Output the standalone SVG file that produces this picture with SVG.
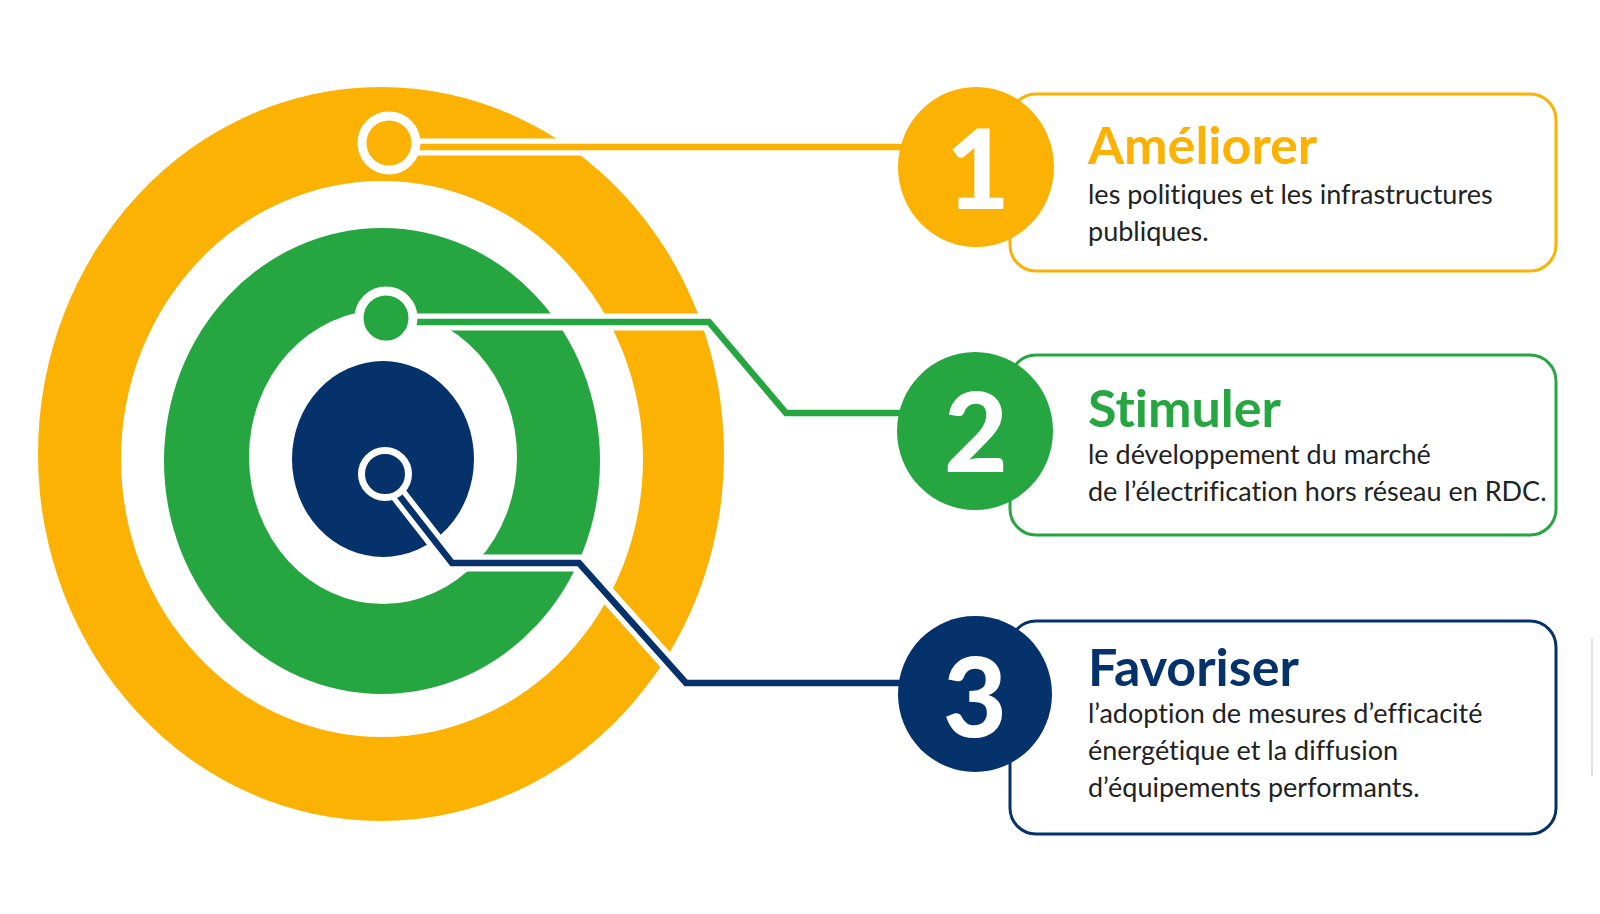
<svg xmlns="http://www.w3.org/2000/svg" width="1600" height="914" viewBox="0 0 1600 914">
  <style>
    .yellow { fill: #FBB203; }
    .green { fill: #26A641; }
    .navy { fill: #05326B; }
    .white { fill: #FFFFFF; }
    .halo { fill: none; stroke: #FFFFFF; stroke-width: 17; stroke-linejoin: miter; stroke-linecap: butt; }
    .line { fill: none; stroke-width: 6.5; stroke-linejoin: miter; stroke-linecap: butt; }
    .box { fill: #FFFFFF; stroke-width: 3; }
    .digit { font-family: Lato, "Liberation Sans", sans-serif; font-weight: 900; font-size: 110px; fill: #FFFFFF; text-anchor: middle; }
    .title { font-family: Lato, "Liberation Sans", sans-serif; font-weight: 700; font-size: 52px; font-variant-ligatures: none; }
    .sub { font-family: Lato, "Liberation Sans", sans-serif; font-weight: 400; font-size: 27px; fill: #222222; font-variant-ligatures: none; }
  </style>
  <rect width="1600" height="914" fill="#FFFFFF"/>

  <g id="target">
    <ellipse class="yellow" cx="381" cy="454" rx="343" ry="367"/>
    <ellipse class="white" cx="382" cy="459" rx="261" ry="278"/>
    <ellipse class="green" cx="382" cy="461" rx="218" ry="233"/>
    <ellipse class="white" cx="383" cy="457" rx="134" ry="147"/>
    <ellipse class="navy" cx="383" cy="459" rx="91" ry="98"/>
  </g>

  <g id="connectors">
    <path class="halo" d="M 405 147 L 905 147"/>
    <path class="halo" d="M 405 322 L 709 322 L 786 413 L 905 413"/>
    <path class="halo" d="M 395 490 L 452 563 L 579 563 L 686 683 L 905 683"/>
    <path class="line" stroke="#FBB203" d="M 410 147 L 905 147"/>
    <path class="line" stroke="#26A641" d="M 410 322 L 709 322 L 786 413 L 905 413"/>
    <path class="line" stroke="#05326B" d="M 398 494 L 452 563 L 579 563 L 686 683 L 905 683"/>
  </g>

  <g id="anchor-1">
    <circle cx="389" cy="143" r="27" class="yellow" stroke="#FFFFFF" stroke-width="9"/>
  </g>
  <g id="anchor-2">
    <circle cx="386" cy="318" r="27" class="green" stroke="#FFFFFF" stroke-width="9"/>
  </g>
  <g id="anchor-3">
    <circle cx="385" cy="474" r="23.5" class="navy" stroke="#FFFFFF" stroke-width="7"/>
  </g>

  <g id="node-1">
    <rect class="box" stroke="#FBB203" x="1010" y="94" width="546" height="177" rx="26" ry="26"/>
    <ellipse class="yellow" cx="976" cy="167" rx="78" ry="80"/>
    <text class="digit" x="978" y="209">1</text>
    <text class="title" x="1088" y="164" fill="#FBB203">Améliorer</text>
    <text class="sub" x="1088" y="204">les politiques et les infrastructures</text>
    <text class="sub" x="1088" y="241">publiques.</text>
  </g>

  <g id="node-2">
    <rect class="box" stroke="#26A641" x="1010" y="355" width="546" height="180" rx="26" ry="26"/>
    <ellipse class="green" cx="975" cy="431" rx="78" ry="79"/>
    <text class="digit" x="976" y="472">2</text>
    <text class="title" x="1088" y="427" fill="#26A641">Stimuler</text>
    <text class="sub" x="1088" y="464">le développement du marché</text>
    <text class="sub" x="1088" y="501">de l’électrification hors réseau en RDC.</text>
  </g>

  <g id="node-3">
    <rect class="box" stroke="#05326B" x="1010" y="621" width="546" height="213" rx="26" ry="26"/>
    <ellipse class="navy" cx="975" cy="694" rx="77" ry="78"/>
    <text class="digit" x="975" y="737">3</text>
    <text class="title" x="1088" y="686" fill="#05326B">Favoriser</text>
    <text class="sub" x="1088" y="723">l’adoption de mesures d’efficacité</text>
    <text class="sub" x="1088" y="760">énergétique et la diffusion</text>
    <text class="sub" x="1088" y="797">d’équipements performants.</text>
  </g>

  <line x1="1592" y1="638" x2="1592" y2="776" stroke="#D5D9E0" stroke-width="1.5"/>
</svg>
